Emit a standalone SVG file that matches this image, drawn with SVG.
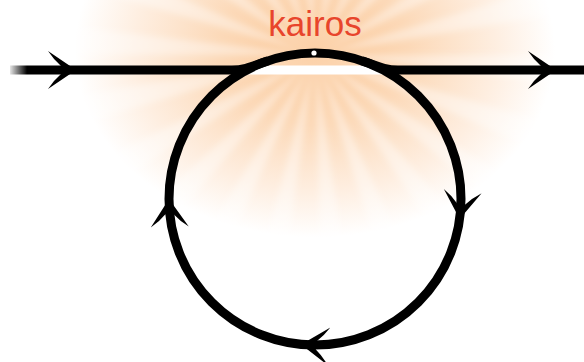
<svg xmlns="http://www.w3.org/2000/svg" width="584" height="362" viewBox="0 0 584 362">
  <style>
    .stroke { fill: none; stroke: #000; stroke-width: 9; }
    .head { fill: #000; }
    .label { font-family: "Liberation Sans", Arial, sans-serif; font-size: 35px; fill: #e8452c; }
  </style>
  <defs>
    <radialGradient id="glowGrad" gradientUnits="userSpaceOnUse" cx="315" cy="50" r="240" gradientTransform="translate(315 50) scale(1 0.78) translate(-315 -50)">
      <stop offset="0" stop-color="#fbc898"/>
      <stop offset="0.4" stop-color="#fcd9b8"/>
      <stop offset="0.75" stop-color="#feeee0"/>
      <stop offset="1" stop-color="#ffffff"/>
    </radialGradient>
    <linearGradient id="fadeIn" gradientUnits="userSpaceOnUse" x1="10" y1="0" x2="27" y2="0">
      <stop offset="0" stop-color="#000" stop-opacity="0.1"/>
      <stop offset="1" stop-color="#000" stop-opacity="1"/>
    </linearGradient>
    <filter id="soft" filterUnits="userSpaceOnUse" x="-100" y="-350" width="830" height="800">
      <feGaussianBlur stdDeviation="3"/>
    </filter>
    <path id="arrow" class="head" d="M4,0 L-24,-19 Q-18,-10 -11,-4 L-11,4 Q-18,10 -24,19 Z"/>
  </defs>

  <rect width="584" height="362" fill="#fff"/>

  <g id="glow">
    <rect x="0" y="0" width="584" height="362" fill="url(#glowGrad)"/>
    <circle cx="315" cy="55" r="175" fill="none" stroke="#fff" stroke-opacity="0.38" stroke-width="350" stroke-dasharray="20 29.98" filter="url(#soft)"/>
  </g>

  <g id="loop">
    <line x1="246" y1="70" x2="384" y2="70" stroke="#fff" stroke-width="9"/>
    <circle class="stroke" cx="315" cy="199" r="146"/>
    <circle cx="314" cy="53" r="2.6" fill="#fff"/>
  </g>

  <g id="connectors">
    <path class="stroke" style="stroke:url(#fadeIn)" d="M10 70 L232 70 C245 70 253 65.9 268 60.8"/>
    <path class="stroke" d="M362 60.8 C377 65.9 385 70 398 70 L584 70"/>
    <use href="#arrow" transform="translate(72 70)"/>
    <use href="#arrow" transform="translate(552 70)"/>
    <use href="#arrow" transform="translate(460.1 215) rotate(96.3)"/>
    <use href="#arrow" transform="translate(305.1 344.7) rotate(183.9)"/>
    <use href="#arrow" transform="translate(169.1 203.1) rotate(268.4)"/>
  </g>

  <g id="label-kairos">
    <text class="label" x="315" y="36" text-anchor="middle">kairos</text>
  </g>
</svg>
